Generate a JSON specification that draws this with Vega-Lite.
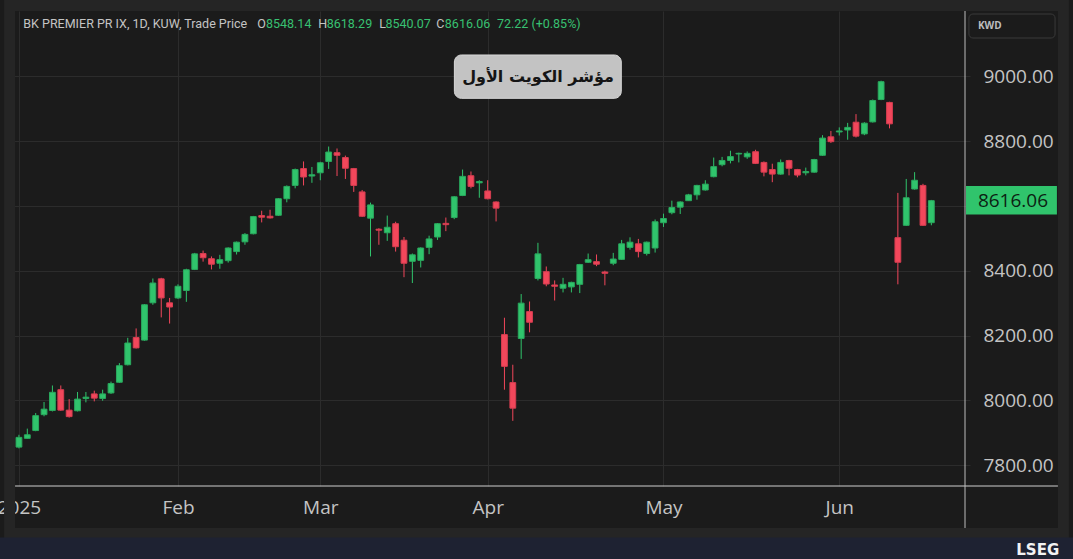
{
  "$schema": "https://vega.github.io/schema/vega-lite/v6.json",
  "width": 960,
  "height": 475,
  "autosize": {"type": "none"},
  "padding": {"left": 10, "top": 11, "right": 103, "bottom": 73},
  "background": "#1b1b1b",
  "config": {"view": {"stroke": null}, "font": "Open Sans"},
  "datasets": {
    "candles": [
      {"i":0,"o":7856,"h":7894,"l":7852,"c":7886},
      {"i":1,"o":7883,"h":7913,"l":7882,"c":7894},
      {"i":2,"o":7907,"h":7961,"l":7905,"c":7953},
      {"i":3,"o":7956,"h":7995,"l":7951,"c":7973},
      {"i":4,"o":7969,"h":8046,"l":7966,"c":8025},
      {"i":5,"o":8033,"h":8046,"l":7968,"c":7970},
      {"i":6,"o":7970,"h":8004,"l":7947,"c":7950},
      {"i":7,"o":7968,"h":8026,"l":7966,"c":8004},
      {"i":8,"o":8006,"h":8026,"l":7994,"c":8010},
      {"i":9,"o":8020,"h":8030,"l":7997,"c":8007},
      {"i":10,"o":8006,"h":8033,"l":7999,"c":8020},
      {"i":11,"o":8023,"h":8058,"l":8020,"c":8052},
      {"i":12,"o":8056,"h":8115,"l":8054,"c":8107},
      {"i":13,"o":8110,"h":8193,"l":8108,"c":8177},
      {"i":14,"o":8194,"h":8222,"l":8160,"c":8162},
      {"i":15,"o":8186,"h":8297,"l":8184,"c":8295},
      {"i":16,"o":8301,"h":8376,"l":8295,"c":8362},
      {"i":17,"o":8375,"h":8378,"l":8256,"c":8316},
      {"i":18,"o":8301,"h":8316,"l":8237,"c":8288},
      {"i":19,"o":8316,"h":8358,"l":8313,"c":8352},
      {"i":20,"o":8339,"h":8406,"l":8304,"c":8403},
      {"i":21,"o":8404,"h":8455,"l":8402,"c":8452},
      {"i":22,"o":8453,"h":8462,"l":8428,"c":8440},
      {"i":23,"o":8437,"h":8444,"l":8404,"c":8420},
      {"i":24,"o":8423,"h":8449,"l":8406,"c":8434},
      {"i":25,"o":8431,"h":8472,"l":8425,"c":8470},
      {"i":26,"o":8459,"h":8490,"l":8450,"c":8488},
      {"i":27,"o":8489,"h":8516,"l":8480,"c":8512},
      {"i":28,"o":8514,"h":8569,"l":8512,"c":8567},
      {"i":29,"o":8570,"h":8585,"l":8549,"c":8565},
      {"i":30,"o":8568,"h":8588,"l":8561,"c":8563},
      {"i":31,"o":8571,"h":8624,"l":8569,"c":8622},
      {"i":32,"o":8622,"h":8663,"l":8611,"c":8660},
      {"i":33,"o":8663,"h":8715,"l":8654,"c":8712},
      {"i":34,"o":8715,"h":8737,"l":8663,"c":8689},
      {"i":35,"o":8692,"h":8720,"l":8671,"c":8696},
      {"i":36,"o":8702,"h":8736,"l":8679,"c":8733},
      {"i":37,"o":8737,"h":8783,"l":8714,"c":8766},
      {"i":38,"o":8764,"h":8777,"l":8692,"c":8756},
      {"i":39,"o":8749,"h":8755,"l":8683,"c":8716},
      {"i":40,"o":8715,"h":8717,"l":8643,"c":8663},
      {"i":41,"o":8643,"h":8649,"l":8566,"c":8568},
      {"i":42,"o":8562,"h":8610,"l":8444,"c":8603},
      {"i":43,"o":8528,"h":8531,"l":8480,"c":8525},
      {"i":44,"o":8517,"h":8570,"l":8492,"c":8534},
      {"i":45,"o":8545,"h":8551,"l":8459,"c":8474},
      {"i":46,"o":8494,"h":8504,"l":8380,"c":8423},
      {"i":47,"o":8429,"h":8453,"l":8362,"c":8449},
      {"i":48,"o":8432,"h":8472,"l":8410,"c":8470},
      {"i":49,"o":8472,"h":8508,"l":8451,"c":8498},
      {"i":50,"o":8504,"h":8547,"l":8495,"c":8545},
      {"i":51,"o":8546,"h":8564,"l":8522,"c":8542},
      {"i":52,"o":8564,"h":8630,"l":8559,"c":8628},
      {"i":53,"o":8632,"h":8712,"l":8630,"c":8691},
      {"i":54,"o":8693,"h":8706,"l":8654,"c":8660},
      {"i":55,"o":8671,"h":8679,"l":8625,"c":8675},
      {"i":56,"o":8646,"h":8679,"l":8620,"c":8622},
      {"i":57,"o":8612,"h":8614,"l":8552,"c":8593},
      {"i":58,"o":8203,"h":8255,"l":8033,"c":8105},
      {"i":59,"o":8055,"h":8110,"l":7937,"c":7976},
      {"i":60,"o":8191,"h":8328,"l":8128,"c":8300},
      {"i":61,"o":8274,"h":8305,"l":8210,"c":8241},
      {"i":62,"o":8376,"h":8486,"l":8370,"c":8452},
      {"i":63,"o":8397,"h":8413,"l":8352,"c":8359},
      {"i":64,"o":8356,"h":8370,"l":8308,"c":8352},
      {"i":65,"o":8346,"h":8378,"l":8333,"c":8358},
      {"i":66,"o":8350,"h":8366,"l":8333,"c":8364},
      {"i":67,"o":8358,"h":8421,"l":8331,"c":8419},
      {"i":68,"o":8426,"h":8453,"l":8424,"c":8434},
      {"i":69,"o":8428,"h":8450,"l":8414,"c":8420},
      {"i":70,"o":8396,"h":8400,"l":8355,"c":8392},
      {"i":71,"o":8423,"h":8455,"l":8417,"c":8436},
      {"i":72,"o":8435,"h":8495,"l":8433,"c":8483},
      {"i":73,"o":8472,"h":8503,"l":8465,"c":8488},
      {"i":74,"o":8483,"h":8498,"l":8441,"c":8459},
      {"i":75,"o":8453,"h":8490,"l":8447,"c":8488},
      {"i":76,"o":8470,"h":8558,"l":8456,"c":8551},
      {"i":77,"o":8548,"h":8576,"l":8535,"c":8561},
      {"i":78,"o":8579,"h":8616,"l":8574,"c":8595},
      {"i":79,"o":8596,"h":8614,"l":8575,"c":8612},
      {"i":80,"o":8616,"h":8637,"l":8615,"c":8634},
      {"i":81,"o":8634,"h":8665,"l":8619,"c":8663},
      {"i":82,"o":8649,"h":8679,"l":8647,"c":8667},
      {"i":83,"o":8690,"h":8749,"l":8688,"c":8721},
      {"i":84,"o":8727,"h":8751,"l":8722,"c":8740},
      {"i":85,"o":8740,"h":8770,"l":8731,"c":8752},
      {"i":86,"o":8760,"h":8764,"l":8734,"c":8762},
      {"i":87,"o":8751,"h":8768,"l":8745,"c":8762},
      {"i":88,"o":8767,"h":8773,"l":8729,"c":8731},
      {"i":89,"o":8734,"h":8737,"l":8691,"c":8704},
      {"i":90,"o":8712,"h":8730,"l":8673,"c":8698},
      {"i":91,"o":8698,"h":8743,"l":8696,"c":8734},
      {"i":92,"o":8740,"h":8742,"l":8694,"c":8716},
      {"i":93,"o":8712,"h":8714,"l":8688,"c":8695},
      {"i":94,"o":8702,"h":8718,"l":8694,"c":8706},
      {"i":95,"o":8704,"h":8745,"l":8702,"c":8743},
      {"i":96,"o":8756,"h":8818,"l":8754,"c":8809},
      {"i":97,"o":8813,"h":8831,"l":8794,"c":8798},
      {"i":98,"o":8828,"h":8842,"l":8817,"c":8831},
      {"i":99,"o":8834,"h":8856,"l":8804,"c":8842},
      {"i":100,"o":8858,"h":8883,"l":8811,"c":8815},
      {"i":101,"o":8822,"h":8858,"l":8818,"c":8855},
      {"i":102,"o":8859,"h":8928,"l":8857,"c":8925},
      {"i":103,"o":8928,"h":8986,"l":8926,"c":8983},
      {"i":104,"o":8919,"h":8921,"l":8839,"c":8853},
      {"i":105,"o":8502,"h":8640,"l":8358,"c":8426},
      {"i":106,"o":8540,"h":8683,"l":8538,"c":8625},
      {"i":107,"o":8652,"h":8704,"l":8650,"c":8679},
      {"i":108,"o":8663,"h":8668,"l":8538,"c":8540},
      {"i":109,"o":8548.14,"h":8618.29,"l":8540.07,"c":8616.06}
    ]
  },
  "layer": [
    {
      "data": {"name": "candles"},
      "mark": {"type": "rule", "strokeWidth": 1},
      "encoding": {
        "x": {
          "field": "i", "type": "quantitative",
          "scale": {"domain": [-0.47, 113.02], "nice": false, "zero": false},
          "axis": {
            "values": [0, 19, 36, 56, 77, 98],
            "labelExpr": "datum.value == 0 ? '2025' : datum.value == 19 ? 'Feb' : datum.value == 36 ? 'Mar' : datum.value == 56 ? 'Apr' : datum.value == 77 ? 'May' : 'Jun'",
            "title": null, "grid": true, "gridColor": "#2c2c2c", "gridWidth": 1,
            "domain": false, "ticks": false, "labelPadding": 12,
            "labelFontSize": 19, "labelFont": "Open Sans", "labelColor": "#c4c4c4",
            "labelFlush": false, "labelOverlap": false
          }
        },
        "y": {
          "field": "l", "type": "quantitative",
          "scale": {"domain": [7736, 9201], "nice": false, "zero": false},
          "axis": {
            "orient": "right",
            "values": [7800, 8000, 8200, 8400, 8600, 8800, 9000],
            "labelExpr": "datum.value == 8600 ? '' : format(datum.value, '.2f')",
            "title": null, "grid": true, "gridColor": "#2c2c2c", "gridWidth": 1,
            "domain": false, "ticks": false, "labelPadding": 13,
            "labelFontSize": 19, "labelFont": "Open Sans", "labelColor": "#c4c4c4",
            "labelFlush": false, "labelOverlap": false
          }
        },
        "y2": {"field": "h"},
        "color": {"condition": {"test": "datum.c >= datum.o", "value": "#30c46c"}, "value": "#f2475b"}
      }
    },
    {
      "data": {"name": "candles"},
      "mark": {"type": "bar", "width": 5.8, "strokeWidth": 1},
      "encoding": {
        "x": {"field": "i", "type": "quantitative"},
        "y": {"field": "o", "type": "quantitative"},
        "y2": {"field": "c"},
        "fill": {"condition": {"test": "datum.c >= datum.o", "value": "#30c46c"}, "value": "#f2475b"},
        "stroke": {"condition": {"test": "datum.c >= datum.o", "value": "#2aa95e"}, "value": "#d63d50"}
      }
    },
    {
      "data": {"values": [{}]},
      "mark": {"type": "rect", "fill": "#c3c3c3", "stroke": "#d9d9d9", "strokeWidth": 1, "cornerRadius": 7},
      "encoding": {
        "x": {"datum": 52.02, "type": "quantitative"},
        "x2": {"datum": 71.96},
        "y": {"datum": 9065.3, "type": "quantitative"},
        "y2": {"datum": 8931.7}
      }
    },
    {
      "data": {"values": [{}]},
      "mark": {"type": "text", "text": "مؤشر الكويت الأول", "font": "DejaVu Sans", "fontWeight": "bold", "fontSize": 16, "fill": "#151515", "align": "center", "baseline": "middle"},
      "encoding": {
        "x": {"datum": 62.01, "type": "quantitative"},
        "y": {"datum": 8997, "type": "quantitative"}
      }
    },
    {
      "data": {"values": [{}]},
      "encoding": {"y": {"datum": 9161, "type": "quantitative"}},
      "layer": [
        {"mark": {"type": "text", "text": "BK PREMIER PR IX, 1D, KUW, Trade Price", "align": "left", "baseline": "middle", "font": "Roboto", "fontSize": 12.5, "fill": "#c4c4c4"},
         "encoding": {"x": {"datum": 0.52, "type": "quantitative"}}},
        {"mark": {"type": "text", "text": "O", "align": "left", "baseline": "middle", "font": "Roboto", "fontSize": 12.5, "fill": "#c4c4c4"},
         "encoding": {"x": {"datum": 28.47, "type": "quantitative"}}},
        {"mark": {"type": "text", "text": "8548.14", "align": "left", "baseline": "middle", "font": "Roboto", "fontSize": 12.5, "fill": "#38c172"},
         "encoding": {"x": {"datum": 29.51, "type": "quantitative"}}},
        {"mark": {"type": "text", "text": "H", "align": "left", "baseline": "middle", "font": "Roboto", "fontSize": 12.5, "fill": "#c4c4c4"},
         "encoding": {"x": {"datum": 35.76, "type": "quantitative"}}},
        {"mark": {"type": "text", "text": "8618.29", "align": "left", "baseline": "middle", "font": "Roboto", "fontSize": 12.5, "fill": "#38c172"},
         "encoding": {"x": {"datum": 36.77, "type": "quantitative"}}},
        {"mark": {"type": "text", "text": "L", "align": "left", "baseline": "middle", "font": "Roboto", "fontSize": 12.5, "fill": "#c4c4c4"},
         "encoding": {"x": {"datum": 43.03, "type": "quantitative"}}},
        {"mark": {"type": "text", "text": "8540.07", "align": "left", "baseline": "middle", "font": "Roboto", "fontSize": 12.5, "fill": "#38c172"},
         "encoding": {"x": {"datum": 43.78, "type": "quantitative"}}},
        {"mark": {"type": "text", "text": "C", "align": "left", "baseline": "middle", "font": "Roboto", "fontSize": 12.5, "fill": "#c4c4c4"},
         "encoding": {"x": {"datum": 49.84, "type": "quantitative"}}},
        {"mark": {"type": "text", "text": "8616.06", "align": "left", "baseline": "middle", "font": "Roboto", "fontSize": 12.5, "fill": "#38c172"},
         "encoding": {"x": {"datum": 50.88, "type": "quantitative"}}},
        {"mark": {"type": "text", "text": "72.22 (+0.85%)", "align": "left", "baseline": "middle", "font": "Roboto", "fontSize": 12.5, "fill": "#38c172"},
         "encoding": {"x": {"datum": 57.1, "type": "quantitative"}}}
      ]
    },
    {
      "data": {"values": [{}]},
      "mark": {"type": "rule", "stroke": "#cfcfcf", "strokeWidth": 1},
      "encoding": {
        "x": {"datum": -0.47, "type": "quantitative"},
        "x2": {"datum": 124.13},
        "y": {"datum": 7736, "type": "quantitative"}
      }
    },
    {
      "data": {"values": [{}]},
      "mark": {"type": "rule", "stroke": "#bdbdbd", "strokeWidth": 1},
      "encoding": {
        "x": {"datum": 113.02, "type": "quantitative"},
        "y": {"datum": 9201, "type": "quantitative"},
        "y2": {"datum": 7606.5}
      }
    },
    {
      "data": {"values": [{}]},
      "mark": {"type": "rect", "fill": "#000000", "fillOpacity": 0, "stroke": "#252525", "strokeWidth": 11},
      "encoding": {
        "x": {"datum": -1.12, "type": "quantitative"},
        "x2": {"datum": 124.78},
        "y": {"datum": 9218, "type": "quantitative"},
        "y2": {"datum": 7589.5}
      }
    },
    {
      "data": {"values": [{}]},
      "mark": {"type": "rect", "fill": "#1e2232"},
      "encoding": {
        "x": {"datum": -3, "type": "quantitative"},
        "x2": {"datum": 130},
        "y": {"datum": 7577, "type": "quantitative"},
        "y2": {"datum": 7480}
      }
    },
    {
      "data": {"values": [{}]},
      "mark": {"type": "text", "text": "LSEG", "font": "DejaVu Sans", "fontWeight": "bold", "fontSize": 15, "fill": "#f2f2f2", "align": "center", "baseline": "middle"},
      "encoding": {
        "x": {"datum": 121.71, "type": "quantitative"},
        "y": {"datum": 7540, "type": "quantitative"}
      }
    },
    {
      "data": {"values": [{}]},
      "mark": {"type": "rect", "fill": "#1b1b1b", "stroke": "#3a3a3a", "strokeWidth": 1, "cornerRadius": 4},
      "encoding": {
        "x": {"datum": 113.49, "type": "quantitative"},
        "x2": {"datum": 123.78},
        "y": {"datum": 9191.7, "type": "quantitative"},
        "y2": {"datum": 9117.7}
      }
    },
    {
      "data": {"values": [{}]},
      "mark": {"type": "text", "text": "KWD", "font": "Open Sans", "fontWeight": "bold", "fontSize": 10, "fill": "#bdbdbd", "align": "left", "baseline": "middle"},
      "encoding": {
        "x": {"datum": 114.56, "type": "quantitative"},
        "y": {"datum": 9155, "type": "quantitative"}
      }
    },
    {
      "data": {"values": [{}]},
      "mark": {"type": "rect", "fill": "#30c46c"},
      "encoding": {
        "x": {"datum": 113.14, "type": "quantitative"},
        "x2": {"datum": 124.0},
        "y": {"datum": 8661.5, "type": "quantitative"},
        "y2": {"datum": 8573.5}
      }
    },
    {
      "data": {"name": "candles"},
      "transform": [{"filter": "datum.i == 109"}],
      "mark": {"type": "text", "font": "Open Sans", "fontSize": 19, "fill": "#0c1f13", "align": "left", "baseline": "middle"},
      "encoding": {
        "x": {"datum": 114.56, "type": "quantitative"},
        "y": {"field": "c", "type": "quantitative"},
        "text": {"field": "c", "type": "quantitative", "format": ".2f"}
      }
    }
  ]
}
